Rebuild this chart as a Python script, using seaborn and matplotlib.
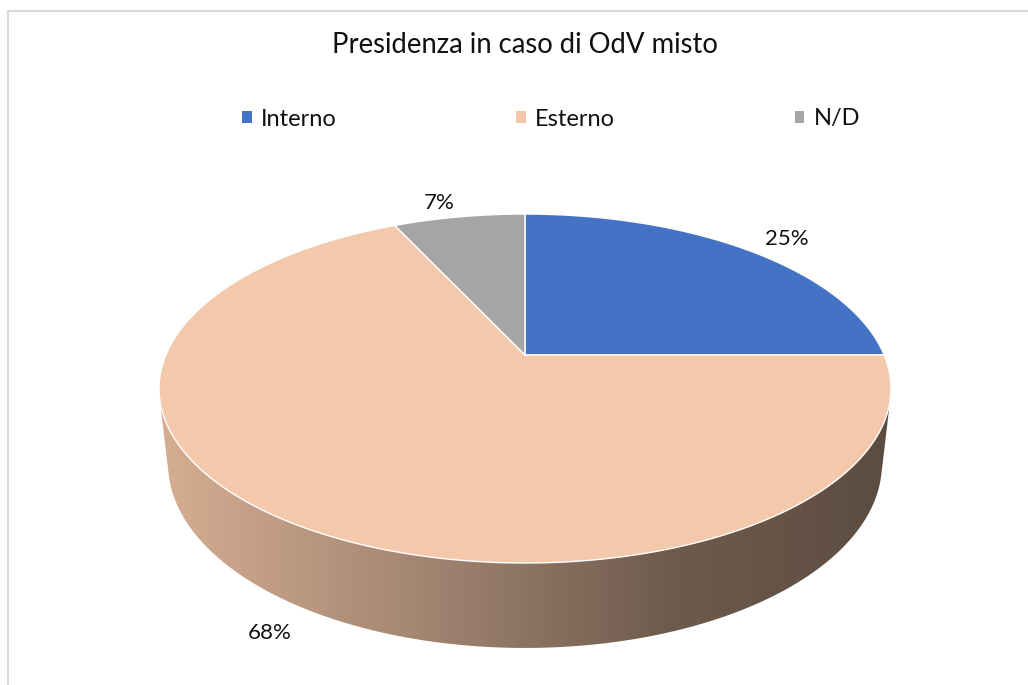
import numpy as np
import matplotlib
matplotlib.use("Agg")
import matplotlib.pyplot as plt
import seaborn as sns
from matplotlib.colors import LinearSegmentedColormap
from matplotlib.patches import Polygon, Rectangle

# data
categories = ["Interno", "Esterno", "N/D"]
values = [25, 68, 7]
colors = ["#4472C4", "#F4C9AB", "#A5A5A5"]
title = "Presidenza in caso di OdV misto"

sns.set_theme(style="white")
plt.rcParams["font.family"] = ["Lato", "DejaVu Sans"]
TXT = "#111111"

# simple perspective camera, output in pixel coords
CX, CY = 525, 355
FOC = 1652
DIST = 4.6
TILT = np.radians(27.9)
DEPTH = 0.2386


def project(X, Y, Z=0.0):
    den = DIST + Y * np.cos(TILT) - Z * np.sin(TILT)
    return CX + FOC * X / den, CY - FOC * (Y * np.sin(TILT) + Z * np.cos(TILT)) / den


def hull(pts):
    pts = sorted(map(tuple, pts))
    def half(seq):
        out = []
        for p in seq:
            while len(out) >= 2 and ((out[-1][0] - out[-2][0]) * (p[1] - out[-2][1])
                                     - (out[-1][1] - out[-2][1]) * (p[0] - out[-2][0])) <= 0:
                out.pop()
            out.append(p)
        return out
    lo, up = half(pts), half(pts[::-1])
    return np.array(lo[:-1] + up[:-1])


fig = plt.figure(figsize=(10.28, 6.85), dpi=100)
ax = fig.add_axes([0, 0, 1, 1])
ax.set_xlim(0, 1028)
ax.set_ylim(685, 0)
ax.axis("off")

# side wall (gradient)
t = np.linspace(0, 2 * np.pi, 720)
tx, ty = project(np.cos(t), np.sin(t), 0.0)
bx, by = project(np.cos(t), np.sin(t), -DEPTH)
shape = hull(np.column_stack([np.r_[tx, bx], np.r_[ty, by]]))
wall = Polygon(shape, closed=True, facecolor="none", edgecolor="none")
ax.add_patch(wall)
wall_cmap = LinearSegmentedColormap.from_list(
    "wall", [(0, "#D6AE92"), (0.35, "#A48672"), (0.7, "#6E5B4D"), (1, "#5C4C40")])
im = ax.imshow(np.linspace(0, 1, 256)[None, :], cmap=wall_cmap, aspect="auto",
               extent=(shape[:, 0].min(), shape[:, 0].max(), shape[:, 1].max(), shape[:, 1].min()))
im.set_clip_path(wall)

# top face slices
frac = np.array(values) / sum(values)
start = 90 - 360 * np.r_[0, np.cumsum(frac)[:-1]]
end = start - 360 * frac
for a0, a1, col, v in zip(start, end, colors, values):
    aa = np.radians(np.linspace(a0, a1, 200))
    px, py = project(np.cos(aa), np.sin(aa), 0.0)
    poly = np.column_stack([np.r_[CX, px], np.r_[CY, py]])
    ax.add_patch(Polygon(poly, closed=True, facecolor=col, edgecolor="white", lw=1.0))

    # labels just outside the rim (below the wall for front slices)
    mid = np.radians((a0 + a1) / 2)
    if np.sin(mid) >= 0:
        lx, ly = project(np.cos(mid) * 1.09, np.sin(mid) * 1.12, 0.0)
        ha = "left" if np.cos(mid) > 0 else "right"
    else:
        lx, ly = project(np.cos(mid) * 1.12, np.sin(mid) * 1.12, -DEPTH)
        ha = "center"
    ax.text(lx, ly, f"{v}%", ha=ha, va="center", fontsize=16, color=TXT)

# chart border (top / left only visible)
ax.plot([8, 8, 1040], [700, 11, 11], color="#D9D9D9", lw=1.5, clip_on=False)

fig.text(525 / 1028, 1 - 45 / 685, title, ha="center", va="center",
         fontsize=19.8, color=TXT)

handles = [Rectangle((0, 0), 1, 1, facecolor=c, edgecolor="none") for c in colors]
fig.legend(handles, categories, loc="center", bbox_to_anchor=(551 / 1028, 1 - 119 / 685),
           ncol=3, frameon=False, fontsize=17, handlelength=0.42, handleheight=0.42,
           handletextpad=0.38, columnspacing=7.6, labelcolor=TXT)

fig.savefig("out.png", dpi=100)
